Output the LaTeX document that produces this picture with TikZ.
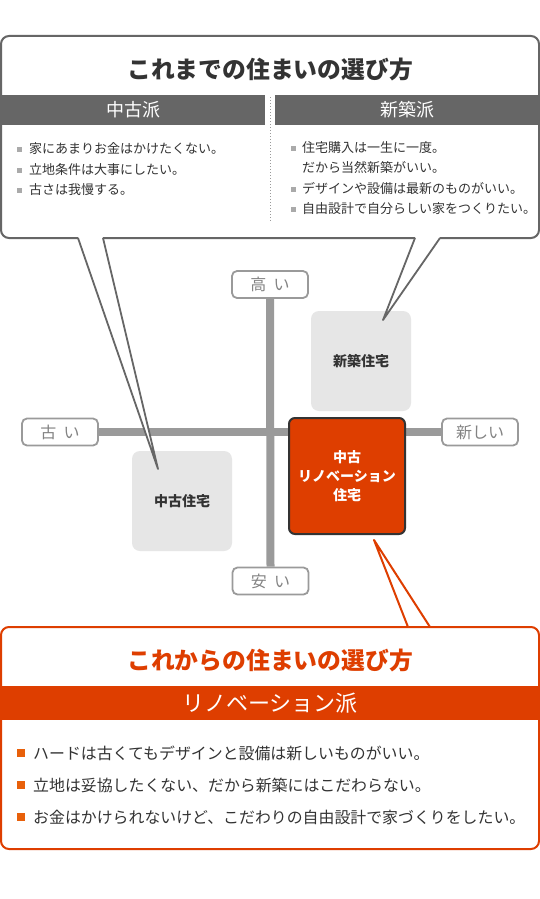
\documentclass[tikz,border=0pt]{standalone}
\usepackage{fontspec}
\setmainfont{Noto Sans CJK JP}
\definecolor{dgray}{HTML}{666666}
\definecolor{tgray}{HTML}{333333}
\definecolor{agray}{HTML}{9A9A9A}
\definecolor{lgray}{HTML}{E6E6E6}
\definecolor{bgray}{HTML}{AAAAAA}
\definecolor{orng}{HTML}{DE3E00}
\definecolor{borng}{HTML}{E8600A}
\tikzset{
  lbl/.style={draw=agray, line width=1.8pt, fill=white, rounded corners=5pt,
    minimum width=76pt, minimum height=27pt, inner sep=0pt, text=agray!85!black,
    font=\fontsize{16}{16}\selectfont},
  axisline/.style={agray, line width=8pt},
  house/.style={fill=lgray, rounded corners=8pt, minimum width=100pt, minimum height=100pt,
    inner sep=0pt, text=tgray, font=\bfseries\fontsize{14}{14}\selectfont},
  reno/.style={fill=orng, draw=tgray, line width=2pt, rounded corners=6pt,
    minimum width=116pt, minimum height=116pt, inner sep=0pt, text=white, align=center,
    font=\bfseries\fontsize{14}{19}\selectfont},
  tailg/.style={dgray, line width=1.8pt, line join=round},
  tailo/.style={orng, line width=2pt, line join=round},
  ttl/.style={inner sep=0pt, font=\bfseries\fontsize{23.8}{24}\selectfont},
  hdr/.style={inner sep=0pt, text=white, font=\fontsize{18}{18}\selectfont},
  btxt/.style={anchor=west, inner sep=0pt, text=tgray, font=\fontsize{13}{13}\selectfont},
  ltxt/.style={anchor=west, inner sep=0pt, text=tgray, font=\fontsize{15.9}{16}\selectfont},
  gsq/.style={fill=bgray, minimum size=5pt, inner sep=0pt},
  osq/.style={fill=borng, minimum size=8pt, inner sep=0pt}
}
\begin{document}
\begin{tikzpicture}[x=1pt,y=-1pt]
\useasboundingbox[fill=white] (0,0) rectangle (540,899);

% axis labels
\node[lbl] (takai) at (270,284.5) {高\hspace{0.45em}い};
\node[lbl] (furui) at (60,432) {古\hspace{0.45em}い};
\node[lbl] (atarashii) at (480,432) {新しい};
\node[lbl] (yasui) at (270.5,581) {安\hspace{0.45em}い};
\draw[axisline] (takai.south) -- (yasui.north);
\draw[axisline] (furui.east) -- (atarashii.west);

% houses
\node[house] (shinchiku) at (361,361) {新築住宅};
\node[house] (chuko) at (182,501) {中古住宅};
\node[reno] (renov) at (347,476) {中古\\リノベーション\\住宅};

\coordinate (tipL) at (158,469);
\coordinate (tipR) at (383,320);
\coordinate (tipO) at (374,540);

% top callout
\fill[white, rounded corners=8pt] (1,36) rectangle (539,238);
\fill[dgray] (1,95) rectangle (265,125);
\fill[dgray] (275,95) rectangle (539,125);
\draw[dgray, line width=2pt, rounded corners=8pt] (1,36) rectangle (539,238);
\fill[white] (79,236.4) -- (102,236.4) -- (103,238) -- (tipL) -- (78,238) -- cycle;
\draw[tailg] (78,238) -- (tipL) -- (103,238);
\fill[white] (416,236.4) -- (439,236.4) -- (440,238) -- (tipR) -- (415,238) -- cycle;
\draw[tailg] (415,238) -- (tipR) -- (440,238);
\draw[agray, dotted, line width=1pt] (270,97) -- (270,221);

\node[ttl, text=tgray] (t1) at (270,69) {これまでの住まいの選び方};
\node[hdr] (h1) at (133,110) {中古派};
\node[hdr] (h2) at (407,110) {新築派};

\node[gsq] (gl1) at (19.5,149) {};
\node[btxt] (l1) at (29,149) {家にあまりお金はかけたくない。};
\node[gsq] (gl2) at (19.5,170) {};
\node[btxt] (l2) at (29,170) {立地条件は大事にしたい。};
\node[gsq] (gl3) at (19.5,190) {};
\node[btxt] (l3) at (29,190) {古さは我慢する。};

\node[gsq] (gr1) at (293.5,148) {};
\node[btxt] (r1) at (302,148) {住宅購入は一生に一度。};
\node[btxt] (r1b) at (302,168) {だから当然新築がいい。};
\node[gsq] (gr2) at (293.5,189) {};
\node[btxt] (r2) at (302,189) {デザインや設備は最新のものがいい。};
\node[gsq] (gr3) at (293.5,209) {};
\node[btxt] (r3) at (302,209) {自由設計で自分らしい家をつくりたい。};

% bottom callout
\fill[white, rounded corners=8pt] (1,627) rectangle (539,849);
\fill[orng] (1,686) rectangle (539,720);
\draw[orng, line width=2pt, rounded corners=8pt] (1,627) rectangle (539,849);
\fill[white] (409,625.4) -- (429,625.4) -- (430,627) -- (tipO) -- (408,627) -- cycle;
\draw[tailo] (408,627) -- (tipO) -- (430,627);

\node[ttl, text=orng] (t2) at (270,660) {これからの住まいの選び方};
\node[hdr, font=\fontsize{22}{22}\selectfont] (h3) at (270,703) {リノベーション派};

\node[osq] (o1) at (21,753) {};
\node[ltxt] (b1) at (33,753) {ハードは古くてもデザインと設備は新しいものがいい。};
\node[osq] (o2) at (21,785) {};
\node[ltxt] (b2) at (33,785) {立地は妥協したくない、だから新築にはこだわらない。};
\node[osq] (o3) at (21,817) {};
\node[ltxt] (b3) at (33,817) {お金はかけられないけど、こだわりの自由設計で家づくりをしたい。};
\end{tikzpicture}
\end{document}
